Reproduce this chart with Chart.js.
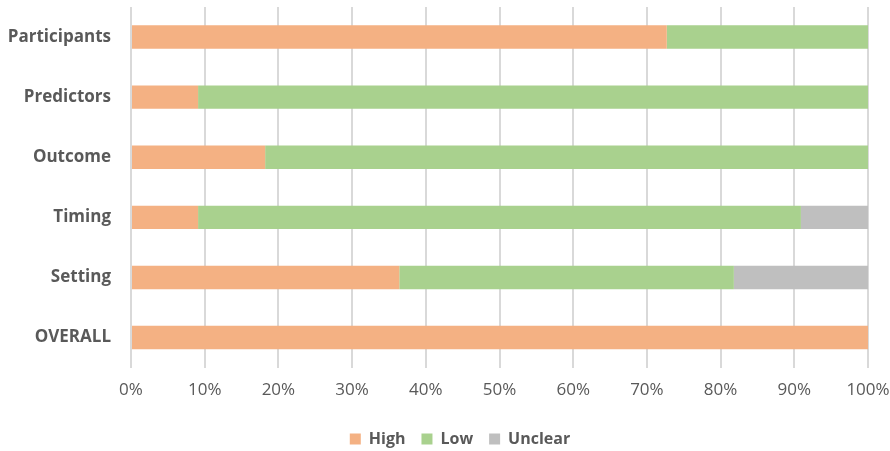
<!DOCTYPE html>
<html>
<head>
<meta charset="utf-8">
<script src="https://cdn.jsdelivr.net/npm/chart.js@4/dist/chart.umd.min.js"></script>
<style>
  html, body { margin: 0; padding: 0; background: #fff; }
</style>
</head>
<body>
<canvas id="bar-chart" width="890" height="451"></canvas>
<script>
// risk of bias per domain, percent of studies
const domains = ['Participants', 'Predictors', 'Outcome', 'Timing', 'Setting', 'OVERALL'];
const high = [72.7, 9.1, 18.2, 9.1, 36.4, 100];
const low = [27.3, 90.9, 81.8, 81.8, 45.4, 0];
const unclear = [0, 0, 0, 9.1, 18.2, 0];

const txt = '#595959';
const fam = '"Open Sans", "Liberation Sans", sans-serif';

// move the legend block a little to the right of the canvas centre
const legendShift = {
    id: 'legendShift',
    afterLayout(chart) {
        const lg = chart.legend;
        if (!lg) return;
        lg.left += 26;
        lg.right += 26;
    }
};

new Chart(document.getElementById('bar-chart').getContext('2d'), {
    type: 'bar',
    data: {
        labels: domains,
        datasets: [{
            label: 'High',
            data: high,
            backgroundColor: '#F4B183'
        }, {
            label: 'Low',
            data: low,
            backgroundColor: '#A9D18E'
        }, {
            label: 'Unclear',
            data: unclear,
            backgroundColor: '#BFBFBF'
        }]
    },
    options: {
        indexAxis: 'y',
        responsive: false,
        animation: false,
        categoryPercentage: 1,
        barPercentage: 0.39,
        layout: { padding: { left: 0, right: 22, top: 7, bottom: -6 } },
        scales: {
            x: {
                stacked: true,
                min: 0,
                max: 100,
                ticks: {
                    stepSize: 10,
                    color: txt,
                    padding: 12,
                    font: { family: fam, size: 17 },
                    callback: v => v + '%'
                },
                grid: { color: '#D9D9D9', lineWidth: 2, drawTicks: false },
                border: { display: false },
                afterFit: s => {
                    s.height += 3;
                    s.paddingRight = 0;
                }
            },
            y: {
                stacked: true,
                ticks: {
                    color: txt,
                    padding: 20,
                    font: { family: fam, size: 17, weight: 'bold' }
                },
                grid: { display: false, drawTicks: false },
                border: { display: false },
                afterFit: s => {
                    // fixed label column, no extra top/bottom room
                    s.width = 131;
                    s.paddingTop = 0;
                    s.paddingBottom = 0;
                }
            }
        },
        plugins: {
            legend: {
                position: 'bottom',
                labels: {
                    color: txt,
                    boxWidth: 11,
                    boxHeight: 11,
                    padding: 16,
                    font: { family: fam, size: 16, weight: 'bold' }
                }
            },
            tooltip: { enabled: false }
        }
    },
    plugins: [legendShift]
});
</script>
</body>
</html>
